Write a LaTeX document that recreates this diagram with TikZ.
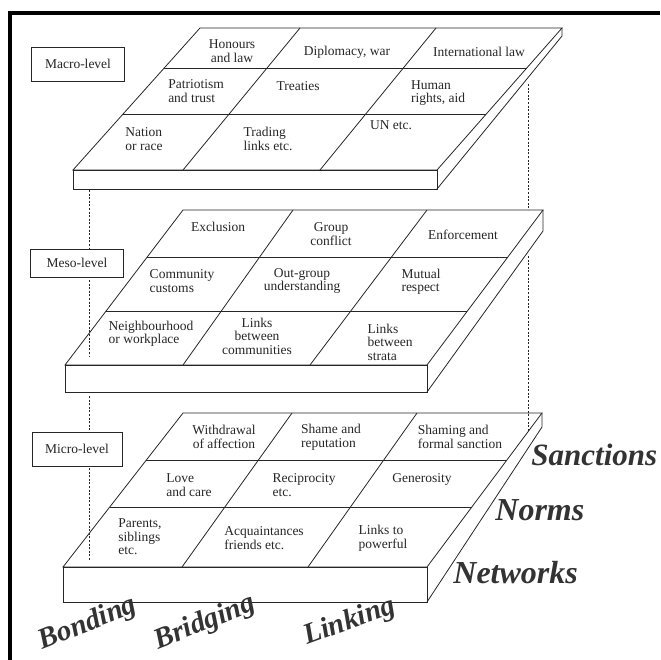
\documentclass[tikz,border=0pt]{standalone}
\usepackage{fontspec}
\setmainfont{Liberation Serif}
\usepackage{tikz}

\begin{document}
\begin{tikzpicture}[x=1pt,y=-1pt,line width=.8pt,draw=black!85,
  cell/.style={font=\fontsize{13.5}{13.5}\selectfont,text=black!85,align=left,inner sep=0pt},
  lvl/.style={draw,fill=white,font=\fontsize{13.5}{13.5}\selectfont,text=black!85,minimum width=93pt,minimum height=34pt,inner sep=0pt},
  bigword/.style={font=\fontsize{32}{32}\selectfont\bfseries\itshape,text=black!80,inner sep=0pt},
  slant/.style={font=\fontsize{29}{29}\selectfont\bfseries\itshape},
  hanger/.style={dash pattern=on 2pt off 1.6pt,line width=.7pt}]
\useasboundingbox (0,0) rectangle (660,660);

% frame
\draw[line width=4pt,black] (10,13) -- (660,13);
\draw[line width=4pt,black] (10,11) -- (10,660);

% macro slab
\draw (200,28) -- (562,28) -- (437,170) -- (73,170) -- cycle;
\draw (73,170) rectangle (437,189);
\draw (562,28) -- (562,36) -- (437,189);
\draw (164,68) -- (527,68);
\draw (123,114) -- (486,114);
\draw (300,28) -- (183,170);
\draw (436,28) -- (320,170);

\path (232,51) node[cell,align=center] (honours) {Honours\\and law};
\path (347,52) node[cell] (diplomacy) {Diplomacy, war};
\path (479,52) node[cell] (intlaw) {International law};
\path (196,91) node[cell] (patriotism) {Patriotism\\and trust};
\path (298,86) node[cell] (treaties) {Treaties};
\path (438,93) node[cell] (human) {Human\\rights, aid};
\path (144,139) node[cell] (nation) {Nation\\or race};
\path (268,139) node[cell] (trading) {Trading\\links etc.};
\path (391,125) node[cell] (un) {UN etc.};

% meso slab
\draw (183,210) -- (543,210) -- (427,365) -- (65,365) -- cycle;
\draw (65,365) rectangle (427,392);
\draw (543,210) -- (543,231) -- (427,392);
\draw (147,257) -- (508,257);
\draw (106,311) -- (467,311);
\draw (293,210) -- (183,365);
\draw (427,210) -- (310,365);

\path (218,227) node[cell] (exclusion) {Exclusion};
\path (331,234) node[cell,align=center] (conflict) {Group\\conflict};
\path (463,235) node[cell] (enforce) {Enforcement};
\path (182,281) node[cell] (customs) {Community\\customs};
\path (302,281) node[cell,align=center] (outgroup) {Out-group\\understanding};
\path (421,282) node[cell] (mutual) {Mutual\\respect};
\path (151,334) node[cell] (neighbour) {Neighbourhood\\or workplace};
\path (257,336) node[cell,align=center] (communities) {Links\\between\\communities};
\path (390,342) node[cell] (strata) {Links\\between\\strata};

% micro slab
\draw (183,413) -- (542,413) -- (427,567) -- (63,567) -- cycle;
\draw (63,567) rectangle (427,602);
\draw (542,413) -- (542,427) -- (427,602);
\draw (146,460) -- (507,460);
\draw (110,507) -- (472,507);
\draw (292,413) -- (182,567);
\draw (417,413) -- (308,567);

\path (224,437) node[cell,align=center] (withdrawal) {Withdrawal\\of affection};
\path (331,437) node[cell] (shame) {Shame and\\reputation};
\path (460,437) node[cell] (shaming) {Shaming and\\formal sanction};
\path (189,485) node[cell] (love) {Love\\and care};
\path (304,485) node[cell] (recip) {Reciprocity\\etc.};
\path (422,479) node[cell] (generosity) {Generosity};
\path (140,537) node[cell] (parents) {Parents,\\siblings\\etc.};
\path (264,538) node[cell] (acquaint) {Acquaintances\\friends etc.};
\path (383,538) node[cell] (powerful) {Links to\\powerful};

% dashed uprights
\coordinate (la) at (89,190);
\coordinate (lb) at (89,357);
\coordinate (lc) at (89,396);
\coordinate (ld) at (89,560);
\coordinate (ra) at (528,84);
\coordinate (rb) at (528,210);
\coordinate (rc) at (528,256);
\coordinate (rd) at (528,432);
\draw[hanger] (la) -- (lb);
\draw[hanger] (lc) -- (ld);
\draw[hanger] (ra) -- (rb);
\draw[hanger] (rc) -- (rd);

% level boxes
\path (78,64) node[lvl] (macro) {Macro-level};
\path (77,263) node[lvl,minimum height=28pt] (meso) {Meso-level};
\path (77,449) node[lvl,minimum width=90pt] (micro) {Micro-level};

% dimension words
\path (531,465) node[bigword,font=\fontsize{31}{31}\selectfont\bfseries\itshape,anchor=base west] (sanctions) {Sanctions};
\path (495,520) node[bigword,anchor=base west] (norms) {Norms};
\path (453,583) node[bigword,anchor=base west] (networks) {Networks};
\path (88,624) node[bigword,slant,rotate=22] (bonding) {Bonding};
\path (205,623) node[bigword,slant,rotate=22] (bridging) {Bridging};
\path (350,622) node[bigword,slant,rotate=20] (linking) {Linking};
\end{tikzpicture}
\end{document}
